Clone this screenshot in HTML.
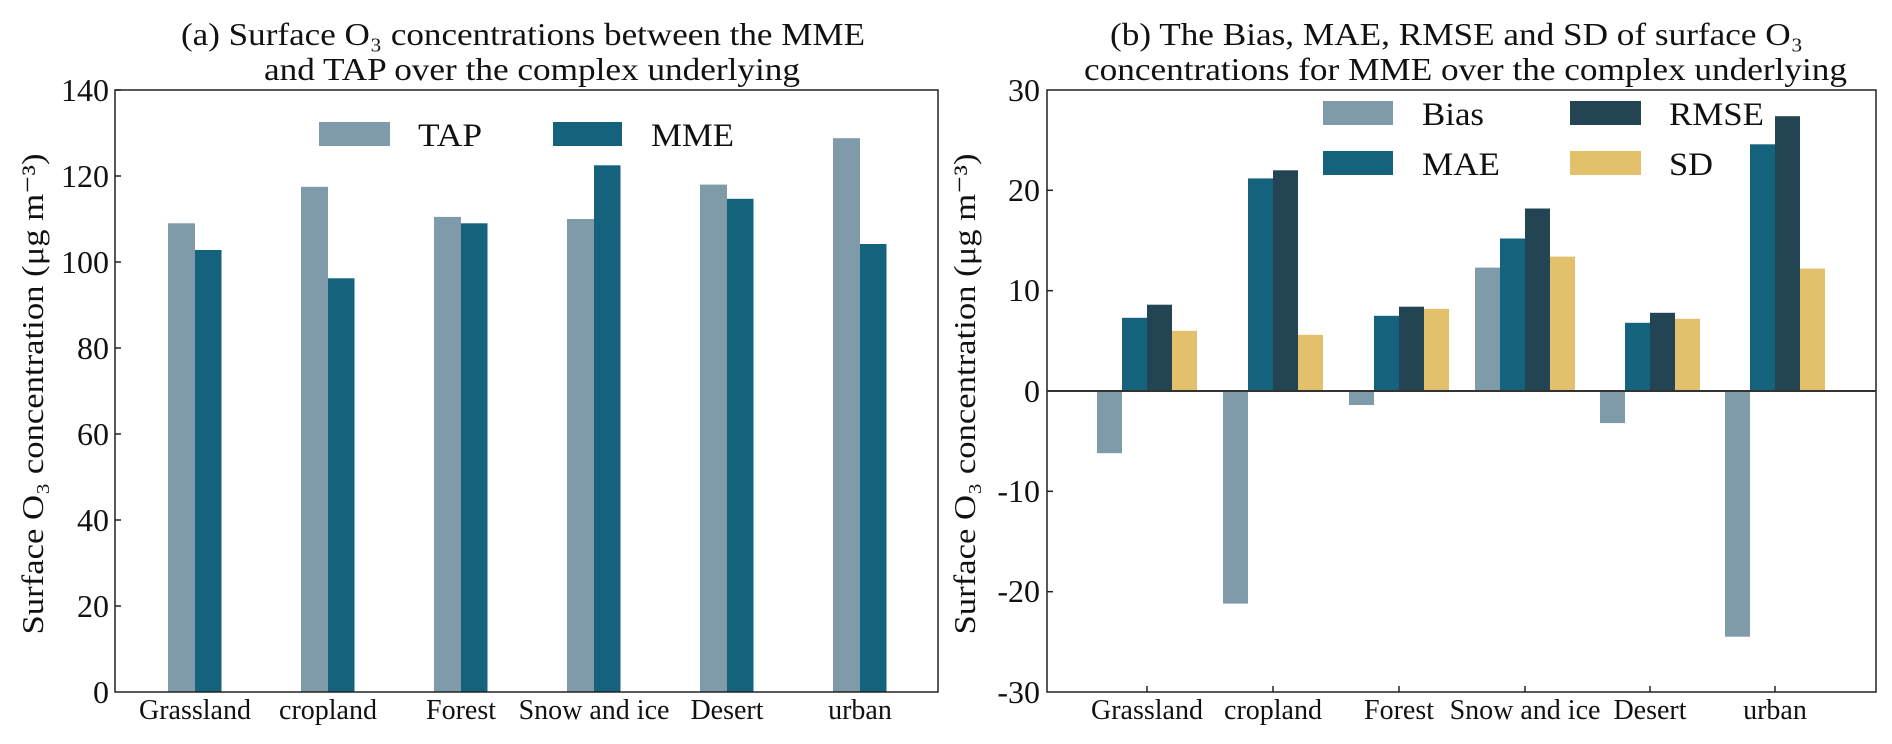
<!DOCTYPE html>
<html><head><meta charset="utf-8"><style>html,body{margin:0;padding:0;background:#fff}svg{display:block}</style></head><body>
<svg width="1892" height="744" xmlns="http://www.w3.org/2000/svg" font-family="Liberation Serif, serif" fill="#111">
<!-- Left chart -->
<text x="181" y="45" font-size="32" textLength="684" lengthAdjust="spacingAndGlyphs">(a) Surface O₃ concentrations between the MME</text>
<text x="264" y="80" font-size="32" textLength="536" lengthAdjust="spacingAndGlyphs">and TAP over the complex underlying</text>
<g>
<rect x="168" y="223.3" width="27" height="468.7" fill="#7f9ba9"/><rect x="195" y="250" width="26.5" height="442" fill="#15627c"/>
<rect x="301" y="186.8" width="27" height="505.2" fill="#7f9ba9"/><rect x="328" y="278.3" width="26.5" height="413.7" fill="#15627c"/>
<rect x="434" y="216.9" width="27" height="475.1" fill="#7f9ba9"/><rect x="461" y="223.3" width="26.5" height="468.7" fill="#15627c"/>
<rect x="567" y="219" width="27" height="473" fill="#7f9ba9"/><rect x="594" y="165.3" width="26.5" height="526.7" fill="#15627c"/>
<rect x="700" y="184.6" width="27" height="507.4" fill="#7f9ba9"/><rect x="727" y="198.8" width="26.5" height="493.2" fill="#15627c"/>
<rect x="833" y="138.2" width="27" height="553.8" fill="#7f9ba9"/><rect x="860" y="244" width="26.5" height="448" fill="#15627c"/>
</g>
<rect x="115" y="90" width="823" height="602" fill="none" stroke="#222" stroke-width="1.5"/>
<g stroke="#222" stroke-width="1.5">
<line x1="115" y1="90" x2="121" y2="90"/><line x1="115" y1="176" x2="121" y2="176"/><line x1="115" y1="262" x2="121" y2="262"/><line x1="115" y1="348" x2="121" y2="348"/><line x1="115" y1="434" x2="121" y2="434"/><line x1="115" y1="520" x2="121" y2="520"/><line x1="115" y1="606" x2="121" y2="606"/>
</g>
<g font-size="32" text-anchor="end">
<text x="109" y="101">140</text><text x="109" y="187">120</text><text x="109" y="273">100</text><text x="109" y="359">80</text><text x="109" y="445">60</text><text x="109" y="531">40</text><text x="109" y="617">20</text><text x="109" y="703">0</text>
</g>
<g font-size="28" text-anchor="middle">
<text x="195" y="719">Grassland</text><text x="328" y="719">cropland</text><text x="461" y="719">Forest</text><text x="594" y="719">Snow and ice</text><text x="727" y="719">Desert</text><text x="860" y="719">urban</text>
</g>
<text transform="translate(43,394) rotate(-90)" font-size="31" text-anchor="middle" textLength="481" lengthAdjust="spacingAndGlyphs">Surface O₃ concentration (μg m⁻³)</text>
<rect x="319" y="122" width="71" height="24" fill="#7f9ba9"/><text x="418" y="146" font-size="33" textLength="64" lengthAdjust="spacingAndGlyphs">TAP</text>
<rect x="553" y="122" width="69" height="24" fill="#15627c"/><text x="651" y="146" font-size="33" textLength="83" lengthAdjust="spacingAndGlyphs">MME</text>

<!-- Right chart -->
<text x="1110" y="45" font-size="32" textLength="693" lengthAdjust="spacingAndGlyphs">(b) The Bias, MAE, RMSE and SD of surface O₃</text>
<text x="1084" y="80" font-size="32" textLength="763" lengthAdjust="spacingAndGlyphs">concentrations for MME over the complex underlying</text>
<g>
<rect x="1097" y="391" width="25" height="62.2" fill="#7f9ba9"/><rect x="1122" y="317.8" width="25" height="73.2" fill="#15627c"/><rect x="1147" y="304.7" width="25" height="86.3" fill="#234452"/><rect x="1172" y="330.8" width="25" height="60.2" fill="#e3c06b"/>
<rect x="1223" y="391" width="25" height="212.6" fill="#7f9ba9"/><rect x="1248" y="178.4" width="25" height="212.6" fill="#15627c"/><rect x="1273" y="170.3" width="25" height="220.7" fill="#234452"/><rect x="1298" y="334.8" width="25" height="56.2" fill="#e3c06b"/>
<rect x="1349" y="391" width="25" height="14" fill="#7f9ba9"/><rect x="1374" y="315.8" width="25" height="75.2" fill="#15627c"/><rect x="1399" y="306.7" width="25" height="84.3" fill="#234452"/><rect x="1424" y="308.8" width="25" height="82.2" fill="#e3c06b"/>
<rect x="1475" y="267.6" width="25" height="123.4" fill="#7f9ba9"/><rect x="1500" y="238.5" width="25" height="152.5" fill="#15627c"/><rect x="1525" y="208.5" width="25" height="182.5" fill="#234452"/><rect x="1550" y="256.6" width="25" height="134.4" fill="#e3c06b"/>
<rect x="1600" y="391" width="25" height="32.1" fill="#7f9ba9"/><rect x="1625" y="322.8" width="25" height="68.2" fill="#15627c"/><rect x="1650" y="312.8" width="25" height="78.2" fill="#234452"/><rect x="1675" y="318.8" width="25" height="72.2" fill="#e3c06b"/>
<rect x="1725" y="391" width="25" height="245.7" fill="#7f9ba9"/><rect x="1750" y="144.3" width="25" height="246.7" fill="#15627c"/><rect x="1775" y="116.2" width="25" height="274.8" fill="#234452"/><rect x="1800" y="268.6" width="25" height="122.4" fill="#e3c06b"/>
</g>
<rect x="1047" y="90" width="829" height="602" fill="none" stroke="#222" stroke-width="1.5"/>
<line x1="1047" y1="391" x2="1876" y2="391" stroke="#333" stroke-width="2"/>
<g stroke="#222" stroke-width="1.5">
<line x1="1047" y1="190.3" x2="1053" y2="190.3"/><line x1="1047" y1="290.7" x2="1053" y2="290.7"/><line x1="1047" y1="491.3" x2="1053" y2="491.3"/><line x1="1047" y1="591.7" x2="1053" y2="591.7"/>
<line x1="1147" y1="692" x2="1147" y2="686"/><line x1="1273" y1="692" x2="1273" y2="686"/><line x1="1399" y1="692" x2="1399" y2="686"/><line x1="1525" y1="692" x2="1525" y2="686"/><line x1="1650" y1="692" x2="1650" y2="686"/><line x1="1775" y1="692" x2="1775" y2="686"/>
</g>
<g font-size="32" text-anchor="end">
<text x="1040" y="101">30</text><text x="1040" y="201">20</text><text x="1040" y="301">10</text><text x="1040" y="402">0</text><text x="1040" y="502">-10</text><text x="1040" y="602">-20</text><text x="1040" y="703">-30</text>
</g>
<g font-size="28" text-anchor="middle">
<text x="1147" y="719">Grassland</text><text x="1273" y="719">cropland</text><text x="1399" y="719">Forest</text><text x="1525" y="719">Snow and ice</text><text x="1650" y="719">Desert</text><text x="1775" y="719">urban</text>
</g>
<text transform="translate(975,394) rotate(-90)" font-size="31" text-anchor="middle" textLength="481" lengthAdjust="spacingAndGlyphs">Surface O₃ concentration (μg m⁻³)</text>
<rect x="1323" y="101" width="70" height="24" fill="#7f9ba9"/><text x="1422" y="125" font-size="33" textLength="62" lengthAdjust="spacingAndGlyphs">Bias</text>
<rect x="1570" y="101" width="71" height="24" fill="#234452"/><text x="1669" y="125" font-size="33" textLength="95" lengthAdjust="spacingAndGlyphs">RMSE</text>
<rect x="1323" y="151" width="70" height="24" fill="#15627c"/><text x="1422" y="175" font-size="33" textLength="78" lengthAdjust="spacingAndGlyphs">MAE</text>
<rect x="1570" y="151" width="71" height="24" fill="#e3c06b"/><text x="1669" y="175" font-size="33" textLength="44" lengthAdjust="spacingAndGlyphs">SD</text>
</svg>
</body></html>
